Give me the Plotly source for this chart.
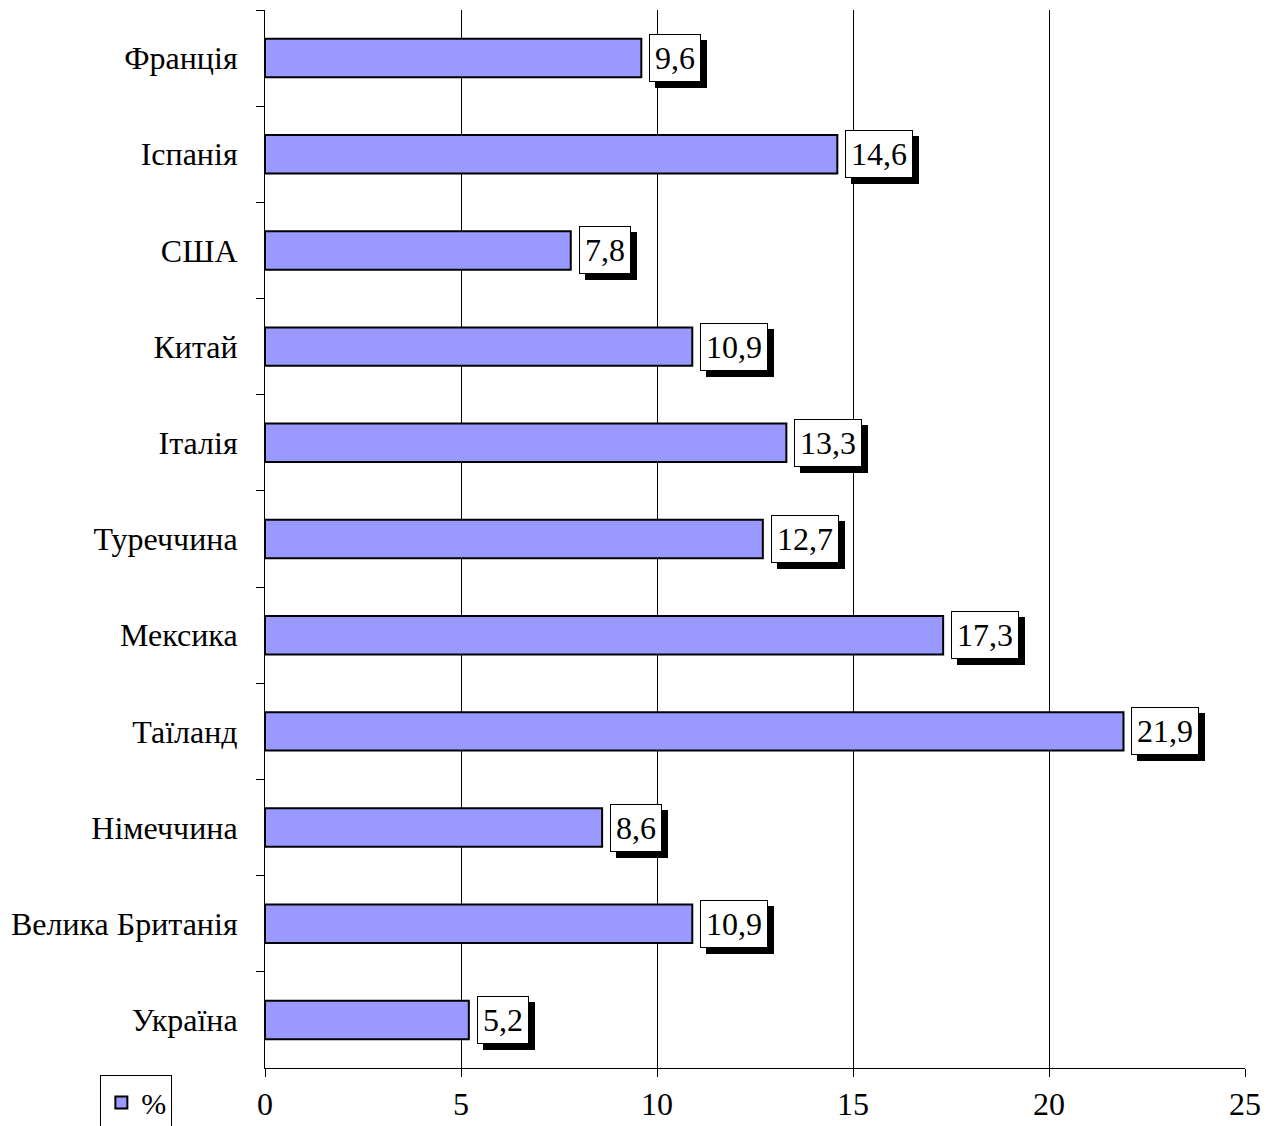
import plotly.graph_objects as go

countries = ['Франція', 'Іспанія', 'США', 'Китай', 'Італія', 'Туреччина',
             'Мексика', 'Таїланд', 'Німеччина', 'Велика Британія', 'Україна']
values = [9.6, 14.6, 7.8, 10.9, 13.3, 12.7, 17.3, 21.9, 8.6, 10.9, 5.2]
labels = [str(v).replace('.', ',') for v in values]

fnt = 'Liberation Serif, Times New Roman, serif'

fig = go.Figure()
fig.add_trace(go.Bar(
    y=countries, x=values, orientation='h', name='%',
    marker=dict(color='#9999FF', line=dict(color='black', width=2)),
    width=0.4, showlegend=True,
))

# data labels: white box + black drop shadow
for c, v, t in zip(countries, values, labels):
    fig.add_annotation(x=v, y=c, text=t, showarrow=False, xanchor='left',
                       xshift=14, yshift=-6, font=dict(family=fnt, size=32, color='black'),
                       bgcolor='black', bordercolor='black', borderwidth=1, borderpad=5)
    fig.add_annotation(x=v, y=c, text=t, showarrow=False, xanchor='left',
                       xshift=8, font=dict(family=fnt, size=32, color='black'),
                       bgcolor='white', bordercolor='black', borderwidth=1, borderpad=5)

# page body has an 8px margin, so margins are shifted to compensate
fig.update_layout(
    width=1277, height=1126,
    margin=dict(l=257, r=40, t=2, b=66, autoexpand=False),
    paper_bgcolor='white', plot_bgcolor='white',
    font=dict(family=fnt, size=32, color='black'),
    xaxis=dict(range=[0, 25], dtick=5, showgrid=True, gridcolor='black', gridwidth=1,
               zeroline=False, showline=True, linecolor='black', linewidth=1,
               ticks='outside', ticklen=8, tickcolor='black', automargin=False,
               tickfont=dict(family=fnt, size=32)),
    yaxis=dict(autorange='reversed', showline=True, linecolor='black', linewidth=1,
               ticks='outside', ticklen=8, tickcolor='black', tickson='boundaries',
               showgrid=False, ticklabelstandoff=20, automargin=False,
               tickfont=dict(family=fnt, size=32)),
    legend=dict(x=-0.168, y=-0.007, xanchor='left', yanchor='top',
                bordercolor='black', borderwidth=1, bgcolor='white',
                font=dict(family=fnt, size=30)),
)

fig.write_html("out.html")
